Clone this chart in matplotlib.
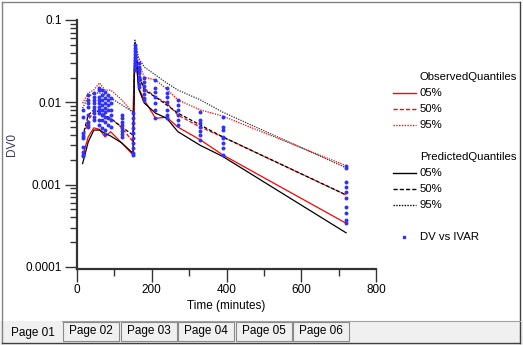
import matplotlib
matplotlib.use("Agg")
import matplotlib.pyplot as plt
from matplotlib.lines import Line2D
from matplotlib.patches import Rectangle
from matplotlib.ticker import FixedLocator, NullFormatter

plt.rcParams['font.family'] = ['Liberation Sans', 'DejaVu Sans']
plt.rcParams['font.size'] = 8

# quantile curves, time in minutes
q_time = [15, 30, 45, 60, 75, 90, 120, 150, 155, 165, 180, 210, 240, 270, 330, 390, 720]
obs_05 = [0.0022, 0.0038, 0.0049, 0.0047, 0.0038, 0.0044, 0.0032, 0.0023, 0.046, 0.0149,
          0.0107, 0.0064, 0.0066, 0.0050, 0.0035, 0.0023, 0.00034]
obs_50 = [0.0035, 0.0061, 0.0076, 0.0078, 0.0064, 0.0064, 0.0049, 0.0033, 0.0497, 0.0233,
          0.0149, 0.0116, 0.0098, 0.0070, 0.0050, 0.0038, 0.00075]
obs_95 = [0.0098, 0.0130, 0.0141, 0.0172, 0.0141, 0.0141, 0.0107, 0.0074, 0.054, 0.0300,
          0.0203, 0.0187, 0.0145, 0.0107, 0.0081, 0.0068, 0.0017]
pred_05 = [0.0018, 0.0033, 0.0046, 0.0046, 0.0042, 0.0039, 0.0032, 0.0024, 0.052, 0.0145,
           0.0098, 0.0074, 0.0064, 0.0044, 0.0030, 0.0022, 0.00026]
pred_50 = [0.0038, 0.0070, 0.0081, 0.0076, 0.0070, 0.0064, 0.0050, 0.0040, 0.052, 0.0215,
           0.0141, 0.0116, 0.0093, 0.0074, 0.0053, 0.0038, 0.00075]
pred_95 = [0.0085, 0.0116, 0.0130, 0.0130, 0.0123, 0.0113, 0.0093, 0.0076, 0.057, 0.0345,
           0.0269, 0.0215, 0.0172, 0.0141, 0.0107, 0.0076, 0.0016]

# observed DV per sampling time
dv_times = [15, 30, 45, 60, 67, 75, 82, 90, 120, 150, 155, 165, 180, 210, 240, 270, 330, 390, 720]
dv_values = [
    [0.0081, 0.0066, 0.0042, 0.0039, 0.0037, 0.0029, 0.0025, 0.0023, 0.0022],
    [0.0123, 0.0107, 0.0098, 0.0088, 0.0070, 0.0058, 0.0053, 0.0050],
    [0.0130, 0.0116, 0.0107, 0.0098, 0.0088, 0.0081, 0.0074, 0.0066, 0.0061],
    [0.0149, 0.0141, 0.0116, 0.0107, 0.0098, 0.0088, 0.0081, 0.0074, 0.0061, 0.0053],
    [0.0141, 0.0123, 0.0107, 0.0093, 0.0081, 0.0070, 0.0061, 0.0049],
    [0.0133, 0.0113, 0.0098, 0.0085, 0.0076, 0.0066, 0.0058, 0.0046, 0.0041],
    [0.0123, 0.0107, 0.0093, 0.0081, 0.0064, 0.0053],
    [0.0113, 0.0098, 0.0081, 0.0070, 0.0061, 0.0050],
    [0.0070, 0.0064, 0.0058, 0.0053, 0.0049, 0.0045, 0.0041, 0.0038],
    [0.0074, 0.0064, 0.0056, 0.0049, 0.0042, 0.0037, 0.0032, 0.0028, 0.0024, 0.0023],
    [0.0497, 0.0457, 0.0420, 0.0386, 0.0355, 0.0327, 0.0300, 0.0276, 0.0247],
    [0.0300, 0.0269, 0.0247, 0.0227, 0.0203, 0.0187, 0.0167, 0.0153],
    [0.0197, 0.0177, 0.0158, 0.0141, 0.0126, 0.0113, 0.0107],
    [0.0187, 0.0149, 0.0133, 0.0116, 0.0098, 0.0081, 0.0064],
    [0.0149, 0.0130, 0.0116, 0.0101, 0.0081, 0.0070, 0.0064],
    [0.0107, 0.0093, 0.0081, 0.0070, 0.0061, 0.0053],
    [0.0076, 0.0061, 0.0056, 0.0050, 0.0045, 0.0040, 0.0035],
    [0.0066, 0.0050, 0.0046, 0.0038, 0.0037, 0.0032, 0.0028, 0.0023],
    [0.0017, 0.0016, 0.00108, 0.00094, 0.00081, 0.00069, 0.00053, 0.00045, 0.00037, 0.00034],
]

y_ticks = [0.0001, 0.001, 0.01, 0.1]
y_ticklabels = ['0.0001', '0.001', '0.01', '0.1']
x_ticks = [0, 200, 400, 600, 800]
tab_labels = ['Page 01', 'Page 02', 'Page 03', 'Page 04', 'Page 05', 'Page 06']

W, H = 523, 345
fig = plt.figure(figsize=(W / 100, H / 100), dpi=100)


def fx(px):
    return px / W


def fy(py):
    return 1 - py / H


ax = fig.add_axes([fx(77), fy(269), fx(376) - fx(77), fy(20) - fy(269)])
ax.set_yscale('log')
ax.set_xlim(0, 800)
ax.set_ylim(10 ** (-4 - 2 / 82.3), 0.1)

red = '#ff0000'
dot = (0, (1, 1))
dash = (0, (3, 1.5))
ax.plot(q_time, obs_05, color=red, lw=0.9, ls='-')
ax.plot(q_time, obs_50, color=red, lw=0.9, ls=dash)
ax.plot(q_time, obs_95, color=red, lw=0.9, ls=dot)
ax.plot(q_time, pred_05, color='black', lw=0.9, ls='-')
ax.plot(q_time, pred_50, color='black', lw=0.9, ls=dash)
ax.plot(q_time, pred_95, color='#333333', lw=0.9, ls=dot)

xs, ys = [], []
for t, vals in zip(dv_times, dv_values):
    xs += [t] * len(vals)
    ys += vals
ax.scatter(xs, ys, s=8, color='#3030ff', linewidths=0, zorder=3)

for side in ['top', 'right']:
    ax.spines[side].set_visible(False)
for side in ['left', 'bottom']:
    ax.spines[side].set_linewidth(1.6)
    ax.spines[side].set_color('#333333')

ax.yaxis.set_major_locator(FixedLocator(y_ticks))
ax.set_yticklabels(y_ticklabels)
ax.yaxis.set_minor_locator(FixedLocator([m * 10.0 ** e for e in range(-4, -1) for m in range(2, 10)]))
ax.yaxis.set_minor_formatter(NullFormatter())
ax.set_xticks(x_ticks)
ax.set_xticks([100, 300, 500, 700], minor=True)
ax.tick_params(which='major', length=9, width=1, color='#333333', labelsize=8.5, pad=2)
ax.tick_params(which='minor', length=5, width=1, color='#333333')
ax.set_xlabel('Time (minutes)', fontsize=8.5, labelpad=3)
ax.set_ylabel('DV0', fontsize=8.5, color='#3a3a50')
ax.yaxis.set_label_coords((18 - 77) / 299, 0.5)

# legend drawn by hand
lx0, lx1, tx = fx(393), fx(416), fx(420)
entries = [
    (77, 'ObservedQuantiles', None, None),
    (93, '05%', red, '-'),
    (109, '50%', red, dash),
    (125, '95%', red, dot),
    (157, 'PredictedQuantiles', None, None),
    (173, '05%', 'black', '-'),
    (189, '50%', 'black', dash),
    (205, '95%', 'black', dot),
]
for py, label, c, ls in entries:
    if c is not None:
        fig.add_artist(Line2D([lx0, lx1], [fy(py), fy(py)], color=c, ls=ls, lw=1))
    fig.text(tx, fy(py), label, fontsize=8.2, va='center', ha='left')
fig.add_artist(Line2D([fx(404)], [fy(237)], marker='s', ms=1.5, color='#3030ff', lw=0))
fig.text(tx, fy(237), 'DV vs IVAR', fontsize=8.2, va='center', ha='left')

# window frame and tab strip
fig.add_artist(Rectangle((0, 0), 1, fy(321), transform=fig.transFigure,
                         facecolor='#f0f0f0', edgecolor='none', zorder=0))
fig.add_artist(Line2D([fx(2), fx(520)], [fy(2), fy(2)], color='#808080', lw=1))
fig.add_artist(Line2D([fx(2), fx(2)], [fy(2), fy(343)], color='#808080', lw=1))
fig.add_artist(Line2D([fx(520), fx(520)], [fy(2), fy(343)], color='#404040', lw=1))
fig.add_artist(Line2D([fx(2), fx(520)], [fy(343), fy(343)], color='#404040', lw=1))
fig.add_artist(Line2D([fx(62), fx(520)], [fy(321), fy(321)], color='#a0a0a0', lw=0.8))
fig.text(fx(33), fy(333), tab_labels[0], fontsize=8.5, ha='center', va='center')
for i, lab in enumerate(tab_labels[1:]):
    x0 = 63 + i * 57.5
    fig.add_artist(Rectangle((fx(x0), fy(341)), fx(56), fy(322) - fy(341),
                             transform=fig.transFigure, facecolor='#f0f0f0',
                             edgecolor='#8a8a8a', lw=0.8))
    fig.text(fx(x0 + 28), fy(331), lab, fontsize=8.5, ha='center', va='center')

fig.savefig('out.png', dpi=100)
